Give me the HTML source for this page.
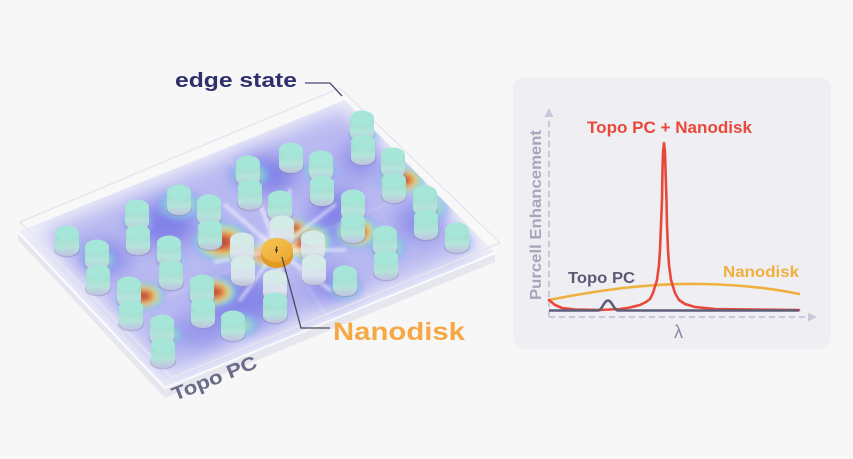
<!DOCTYPE html>
<html><head><meta charset="utf-8"><style>
html,body{margin:0;padding:0;background:#f7f7f8;}
svg{display:block;font-family:"Liberation Sans",sans-serif;}
</style></head><body>
<svg width="853" height="459" viewBox="0 0 853 459" xmlns="http://www.w3.org/2000/svg">
<defs>
  <clipPath id="plate"><polygon points="18,232 345,100 495,253 165,388"/></clipPath>
  <filter id="b12" x="-50%" y="-50%" width="200%" height="200%"><feGaussianBlur stdDeviation="10"/></filter>
  <filter id="b6" x="-50%" y="-50%" width="200%" height="200%"><feGaussianBlur stdDeviation="3"/></filter>
  <filter id="b2" x="-50%" y="-50%" width="200%" height="200%"><feGaussianBlur stdDeviation="1.5"/></filter>
  <radialGradient id="hot">
    <stop offset="0" stop-color="#9c2a1a"/>
    <stop offset="0.32" stop-color="#d44a26"/>
    <stop offset="0.52" stop-color="#f2c745"/>
    <stop offset="0.7" stop-color="#7fe0c6"/>
    <stop offset="0.87" stop-color="#6f9cf0" stop-opacity="0.6"/>
    <stop offset="1" stop-color="#7a7aee" stop-opacity="0"/>
  </radialGradient>
  <radialGradient id="ring">
    <stop offset="0" stop-color="#e8d860" stop-opacity="0.6"/>
    <stop offset="0.45" stop-color="#78dcc8" stop-opacity="0.85"/>
    <stop offset="0.8" stop-color="#6fa0f0" stop-opacity="0.5"/>
    <stop offset="1" stop-color="#7a7aee" stop-opacity="0"/>
  </radialGradient>
  <radialGradient id="cy">
    <stop offset="0" stop-color="#86e0dc" stop-opacity="0.8"/>
    <stop offset="0.7" stop-color="#80b8f0" stop-opacity="0.5"/>
    <stop offset="1" stop-color="#7a7aee" stop-opacity="0"/>
  </radialGradient>
  <radialGradient id="glow">
    <stop offset="0" stop-color="#ffffff" stop-opacity="0.8"/>
    <stop offset="0.6" stop-color="#ffffff" stop-opacity="0.35"/>
    <stop offset="1" stop-color="#ffffff" stop-opacity="0"/>
  </radialGradient>
  <linearGradient id="body" x1="0" y1="0" x2="0" y2="1">
    <stop offset="0" stop-color="#9cdccd"/>
    <stop offset="0.6" stop-color="#b3e4da"/>
    <stop offset="1" stop-color="#c2c2e0"/>
  </linearGradient>
  <linearGradient id="bodyw" x1="0" y1="0" x2="0" y2="1">
    <stop offset="0" stop-color="#d6eae9"/>
    <stop offset="0.6" stop-color="#dfe8ef"/>
    <stop offset="1" stop-color="#bfc2dc"/>
  </linearGradient>
  <linearGradient id="gold" x1="0" y1="0" x2="1" y2="1">
    <stop offset="0" stop-color="#f7c655"/>
    <stop offset="1" stop-color="#eaa530"/>
  </linearGradient>
  <g id="p">
    <ellipse cx="0" cy="17" rx="13" ry="7.5" fill="#8a8ab8" opacity="0.45"/>
    <path d="M-12,0 L-12,16 A12,7 0 0 0 12,16 L12,0 Z" fill="url(#body)"/>
    <ellipse cx="0" cy="0" rx="12" ry="7.5" fill="#a6e6d8"/>
  </g>
  <g id="pw">
    <ellipse cx="0" cy="17" rx="13" ry="7.5" fill="#9a9ab8" opacity="0.4"/>
    <path d="M-12,0 L-12,16 A12,7 0 0 0 12,16 L12,0 Z" fill="url(#bodyw)" opacity="0.92"/>
    <ellipse cx="0" cy="0" rx="12" ry="7.5" fill="#d4ebe8"/>
  </g>
</defs>

<rect width="853" height="459" fill="#f7f7f8"/>

<!-- slab -->
<polygon points="18,232 165,388 495,253 495,262 165,398 18,240" fill="#e6e6ee"/>
<polygon points="18,232 345,100 495,253 165,388" fill="#eeeef8"/>
<polyline points="18,232 165,388 495,253" fill="none" stroke="#ffffff" stroke-width="2"/>

<!-- field -->
<g clip-path="url(#plate)">
  <g filter="url(#b12)">
    <polygon points="40,232 342,108 478,250 168,375" fill="#b0b0f0"/>
    <ellipse cx="165" cy="225" rx="34" ry="24" fill="#6060e2" opacity="0.8"/>
    <ellipse cx="268" cy="175" rx="32" ry="20" fill="#6060e2" opacity="0.8"/>
    <ellipse cx="335" cy="215" rx="26" ry="28" fill="#6060e2" opacity="0.75"/>
    <ellipse cx="245" cy="300" rx="42" ry="26" fill="#6060e2" opacity="0.7"/>
    <ellipse cx="105" cy="258" rx="26" ry="18" fill="#6060e2" opacity="0.65"/>
    <ellipse cx="420" cy="222" rx="26" ry="20" fill="#6060e2" opacity="0.6"/>
    <ellipse cx="360" cy="160" rx="22" ry="18" fill="#6060e2" opacity="0.6"/>
    <ellipse cx="330" cy="285" rx="26" ry="18" fill="#6060e2" opacity="0.6"/>
    <ellipse cx="200" cy="330" rx="30" ry="18" fill="#6060e2" opacity="0.5"/>
  </g>
  <g filter="url(#b6)">
    <ellipse cx="180" cy="205" rx="26" ry="18" fill="url(#ring)"/>
    <ellipse cx="250" cy="175" rx="24" ry="16" fill="url(#ring)"/>
    <ellipse cx="100" cy="260" rx="20" ry="14" fill="url(#ring)"/>
    <ellipse cx="430" cy="208" rx="22" ry="16" fill="url(#ring)"/>
    <ellipse cx="240" cy="325" rx="22" ry="14" fill="url(#ring)"/>
    <ellipse cx="168" cy="335" rx="18" ry="12" fill="url(#ring)"/>
    <ellipse cx="388" cy="248" rx="22" ry="16" fill="url(#ring)"/>
    <ellipse cx="345" cy="288" rx="20" ry="14" fill="url(#ring)"/>
    <ellipse cx="320" cy="172" rx="20" ry="14" fill="url(#ring)"/>
    <ellipse cx="365" cy="135" rx="18" ry="14" fill="url(#cy)"/>
    <ellipse cx="138" cy="222" rx="18" ry="14" fill="url(#cy)"/>
    <ellipse cx="70" cy="245" rx="16" ry="12" fill="url(#cy)"/>
    <ellipse cx="460" cy="242" rx="16" ry="12" fill="url(#cy)"/>
    <ellipse cx="172" cy="260" rx="18" ry="14" fill="url(#cy)"/>
    <ellipse cx="130" cy="300" rx="18" ry="14" fill="url(#cy)"/>
    <ellipse cx="210" cy="218" rx="18" ry="14" fill="url(#cy)"/>
    <ellipse cx="395" cy="170" rx="18" ry="14" fill="url(#cy)"/>
    <ellipse cx="222" cy="242" rx="32" ry="22" fill="url(#hot)"/>
    <ellipse cx="306" cy="242" rx="30" ry="22" fill="url(#hot)"/>
    <ellipse cx="262" cy="255" rx="17" ry="14" fill="url(#hot)"/>
    <ellipse cx="295" cy="228" rx="15" ry="12" fill="url(#hot)"/>
    <ellipse cx="143" cy="296" rx="24" ry="16" fill="url(#hot)"/>
    <ellipse cx="214" cy="292" rx="26" ry="17" fill="url(#hot)"/>
    <ellipse cx="357" cy="232" rx="24" ry="18" fill="url(#hot)"/>
    <ellipse cx="402" cy="180" rx="26" ry="16" fill="url(#hot)"/>
  </g>
  <!-- rays -->
  <g stroke="#ffffff" stroke-linecap="round" filter="url(#b2)" opacity="0.65">
    <line x1="277" y1="250" x2="225" y2="205" stroke-width="3"/>
    <line x1="277" y1="250" x2="215" y2="262" stroke-width="3"/>
    <line x1="277" y1="250" x2="240" y2="300" stroke-width="3"/>
    <line x1="277" y1="250" x2="285" y2="305" stroke-width="3"/>
    <line x1="277" y1="250" x2="330" y2="290" stroke-width="3"/>
    <line x1="277" y1="250" x2="345" y2="250" stroke-width="3"/>
    <line x1="277" y1="250" x2="335" y2="205" stroke-width="3"/>
    <line x1="277" y1="250" x2="290" y2="190" stroke-width="3"/>
    <line x1="277" y1="250" x2="255" y2="190" stroke-width="3"/>
    <line x1="230" y1="160" x2="335" y2="330" stroke-width="1.2" opacity="0.6"/>
    <line x1="160" y1="300" x2="420" y2="190" stroke-width="1.2" opacity="0.5"/>
  </g>
  <ellipse cx="277" cy="250" rx="26" ry="22" fill="url(#glow)"/>
</g>

<!-- upper translucent plane -->
<polygon points="20,222 340,88 500,243 172,378" fill="#ffffff" fill-opacity="0.12" stroke="#e6e6f0" stroke-width="1.5"/>

<!-- pillars -->
<use href="#p" x="362" y="118"/>
<use href="#p" x="363" y="142"/>
<use href="#p" x="291" y="150"/>
<use href="#p" x="393" y="155"/>
<use href="#p" x="321" y="158"/>
<use href="#p" x="248" y="163"/>
<use href="#p" x="394" y="180"/>
<use href="#p" x="322" y="183"/>
<use href="#p" x="250" y="187"/>
<use href="#p" x="179" y="192"/>
<use href="#p" x="425" y="193"/>
<use href="#p" x="353" y="197"/>
<use href="#p" x="280" y="198"/>
<use href="#p" x="209" y="202"/>
<use href="#p" x="137" y="207"/>
<use href="#p" x="426" y="217"/>
<use href="#p" x="353" y="220"/>
<use href="#pw" x="282" y="223"/>
<use href="#p" x="210" y="227"/>
<use href="#p" x="457" y="230"/>
<use href="#p" x="138" y="232"/>
<use href="#p" x="67" y="233"/>
<use href="#p" x="385" y="233"/>
<use href="#pw" x="313" y="238"/>
<use href="#pw" x="242" y="240"/>
<use href="#p" x="169" y="243"/>
<use href="#p" x="97" y="247"/>

<!-- nanodisk -->
<path d="M261,250 L261,256 A16,12 0 0 0 293,256 L293,250 Z" fill="#e29a22"/>
<ellipse cx="277" cy="250" rx="16" ry="12" fill="url(#gold)"/>
<path d="M276,246 l2,2 l-1,0 l1,3 l-1,0 l0,2 l-1,0 l0,-2 l-1,0 l1,-3 z" fill="#333"/>

<use href="#p" x="386" y="257"/>
<use href="#pw" x="314" y="262"/>
<use href="#pw" x="243" y="263"/>
<use href="#p" x="171" y="267"/>
<use href="#p" x="98" y="272"/>
<use href="#p" x="345" y="273"/>
<use href="#pw" x="275" y="277"/>
<use href="#p" x="202" y="282"/>
<use href="#p" x="129" y="284"/>
<use href="#p" x="275" y="300"/>
<use href="#p" x="203" y="305"/>
<use href="#p" x="131" y="307"/>
<use href="#p" x="233" y="318"/>
<use href="#p" x="162" y="322"/>
<use href="#p" x="163" y="345"/>

<!-- labels left -->
<polyline points="282,257 301,328 330,328" fill="none" stroke="#4a4a55" stroke-width="1.3"/>
<text x="333" y="340" font-size="25" font-weight="bold" fill="#f5a843" textLength="132" lengthAdjust="spacingAndGlyphs">Nanodisk</text>
<text x="175" y="87" font-size="20" font-weight="bold" fill="#2f2f6c" textLength="122" lengthAdjust="spacingAndGlyphs">edge state</text>
<polyline points="305,83 330,83 342,96" fill="none" stroke="#4a4a72" stroke-width="1.3"/>
<text transform="translate(175,401) rotate(-22)" font-size="19" font-weight="bold" fill="#6b6b88" textLength="90" lengthAdjust="spacingAndGlyphs">Topo PC</text>

<!-- chart panel -->
<rect x="513" y="77" width="318" height="272" rx="12" fill="#eeeef3"/>
<line x1="549" y1="317" x2="549" y2="116" stroke="#c8c8dc" stroke-width="2" stroke-dasharray="6 4"/>
<polygon points="549,108 544.5,117 553.5,117" fill="#c8c8dc"/>
<line x1="549" y1="317" x2="808" y2="317" stroke="#c8c8dc" stroke-width="2" stroke-dasharray="6 4"/>
<polygon points="817,317 808,312.5 808,321.5" fill="#c8c8dc"/>

<path d="M549,300 C600,290 650,283 700,284 C740,284.5 770,288 799,294" fill="none" stroke="#efb03e" stroke-width="2.6" stroke-linecap="round"/>
<polyline points="549,300 555,305 562,308 575,309.5 600,310 620,309 630,307.5 640,305 646,302 650,299 653,293 657,280 659,265 660,250 661,225 662,200 662.5,170 663,152 664,143 665,152 665.5,170 666.5,200 667,225 668,250 669,265 671,280 675,293 679,300 685,304 695,307 715,309 750,309.5 799,310" fill="none" stroke="#e8493a" stroke-width="2.6" stroke-linejoin="round" stroke-linecap="round"/>
<path d="M549,310.5 L598,310.5 C602,310.5 604,300.5 608,300.5 C612,300.5 614,310.5 618,310.5 L799,310.5" fill="none" stroke="#5e5e7a" stroke-width="2.6"/>

<text x="587" y="133" font-size="17" font-weight="bold" fill="#e8493a" textLength="165" lengthAdjust="spacingAndGlyphs">Topo PC + Nanodisk</text>
<text x="723" y="277" font-size="16" font-weight="bold" fill="#efb03e" textLength="76" lengthAdjust="spacingAndGlyphs">Nanodisk</text>
<text x="568" y="283" font-size="15.5" font-weight="bold" fill="#5a5a76" textLength="67" lengthAdjust="spacingAndGlyphs">Topo PC</text>
<text transform="translate(541,300) rotate(-90)" font-size="16" font-weight="bold" fill="#a6a6bc" textLength="170" lengthAdjust="spacingAndGlyphs">Purcell Enhancement</text>
<text x="674" y="338" font-size="18" fill="#8a8aa2">λ</text>
</svg>
</body></html>
